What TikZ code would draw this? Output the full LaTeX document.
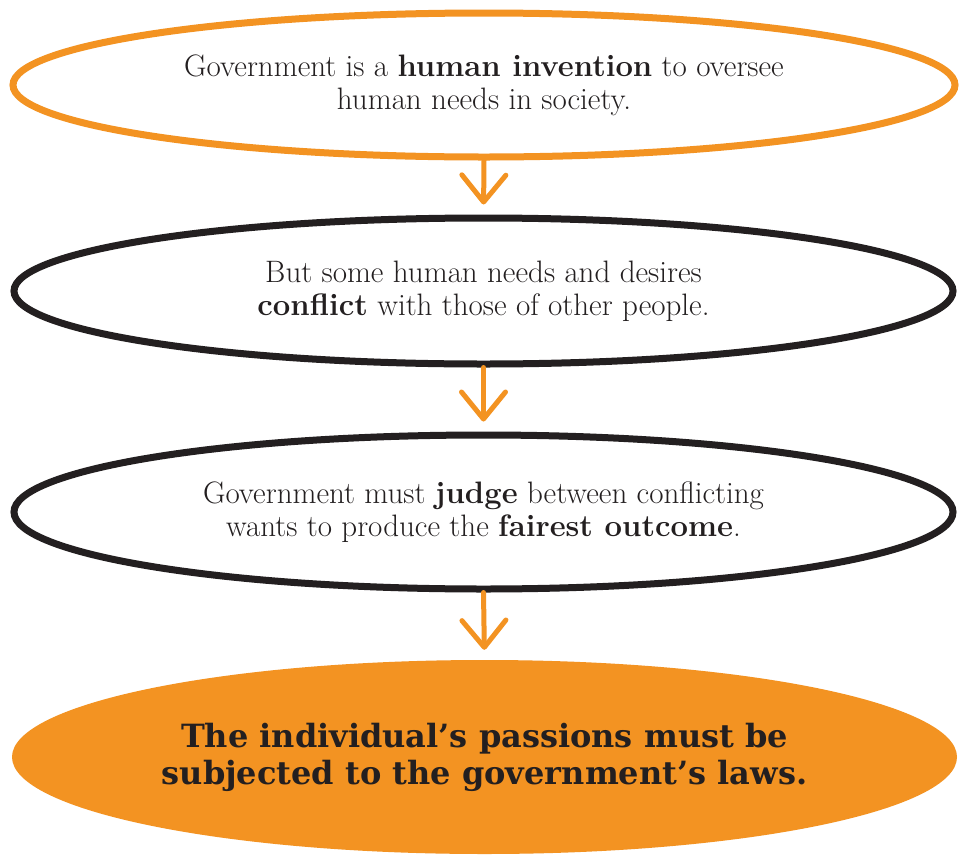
\documentclass[tikz,border=0pt]{standalone}
\usepackage{fontspec}
\usetikzlibrary{shapes.geometric,arrows.meta}
\newfontfamily\slab{DejaVu Serif}
\definecolor{orng}{HTML}{F39322}
\definecolor{ink}{HTML}{231F20}
\begin{document}
\begin{tikzpicture}[x=1pt,y=-1pt,
  ring/.style={ellipse, draw, line width=7pt, inner sep=0pt, align=center,
    text=ink, font=\fontsize{31}{33}\selectfont},
  orangering/.style={ring, draw=orng},
  blackring/.style={ring, draw=ink},
  final/.style={ellipse, fill=orng, inner sep=0pt, align=center, text=ink,
    font=\slab\bfseries\fontsize{32}{37}\selectfont},
  arr/.style={draw=orng, line width=5pt, line cap=round,
    -{Straight Barb[length=27pt,width=44pt,round]}, shorten >=10pt}]
\fill[white] (0,0) rectangle (962,855);
\useasboundingbox (0,0) rectangle (962,855);

\node[orangering, minimum width=942pt, minimum height=144pt] (e1) at (484,85)
  {Government is a \textbf{human invention} to oversee\\human needs in society.};
\node[blackring, minimum width=939pt, minimum height=146pt] (e2) at (483.5,291)
  {But some human needs and desires\\\textbf{conflict} with those of other people.};
\node[blackring, minimum width=939pt, minimum height=154pt] (e3) at (483.5,512)
  {Government must \textbf{judge} between conflicting\\wants to produce the \textbf{fairest outcome}.};
\node[final, minimum width=945pt, minimum height=194pt] (e4) at (484.5,757)
  {The individual’s passions must be\\subjected to the government’s laws.};

\draw[arr] (e1.south) -- (e2.north);
\draw[arr] (e2.south) -- (e3.north);
\draw[arr] (e3.south) -- (e4.north);
\end{tikzpicture}
\end{document}
